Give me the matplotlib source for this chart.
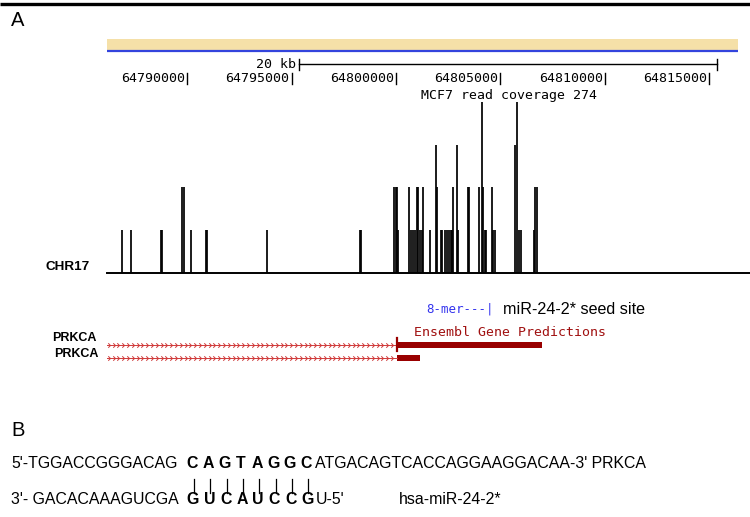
import numpy as np
import matplotlib
matplotlib.use('Agg')
import matplotlib.pyplot as plt

plt.rcParams['font.family'] = ['Liberation Sans', 'DejaVu Sans']
MONO = 'DejaVu Sans Mono'

# --- data -----------------------------------------------------------------
# browser window on chr17 (bp)
view_start = 64786169
view_end = 64816373
tick_pos = [64790000, 64795000, 64800000, 64805000, 64810000, 64815000]
scale_start = 64795349
scale_len = 20000

# MCF7 read coverage (positions in bp, reads)
cov_pos = [
    64786887, 64787289, 64788750, 64788803, 64789770, 64789828, 64790163,
    64790881, 64790934, 64793831, 64798271, 64798319,
    64799923, 64799995, 64800057, 64800114, 64800632, 64800713, 64800809,
    64800890, 64800986, 64801063, 64801144, 64801225, 64801302, 64801637,
    64801925, 64801972, 64802135, 64802222, 64802341, 64802423, 64802547,
    64802619, 64802691, 64802748, 64802930, 64802988, 64803443, 64803505,
    64803970, 64804099, 64804151, 64804257, 64804319, 64804606, 64804664,
    64804721, 64805717, 64805775, 64805909, 64805967, 64806618, 64806675,
    64806732,
]
cov_reads = [
    68, 68, 68, 68, 137, 137, 68,
    68, 68, 68, 68, 68,
    137, 137, 137, 68, 137, 68, 68,
    68, 137, 137, 68, 68, 137, 68,
    205, 137, 68, 68, 68, 68, 68,
    68, 68, 137, 205, 68, 137, 137,
    137, 274, 137, 68, 68, 137, 68,
    68, 205, 274, 68, 68, 68, 137,
    137,
]

# Ensembl transcripts
tx_names = ['PRKCA', 'PRKCA']
tx_exon_start = [64800023, 64800023]
tx_exon_end = [64806977, 64801130]

# panel B sequences
mrna_left = "5'-TGGACCGGGACAG"
mrna_seed = "CAGTAGGC"
mrna_right = "ATGACAGTCACCAGGAAGGACAA-3' PRKCA"
mir_left = "3'- GACACAAAGUCGA"
mir_seed = "GUCAUCCG"
mir_right = "U-5'"
mir_name = "hsa-miR-24-2*"

# --- layout ---------------------------------------------------------------
W, H = 750, 517
BP_PER_PX = 5000 / 104.4
G0 = tick_pos[0] - 187.3 * BP_PER_PX
G1 = G0 + W * BP_PER_PX
FS_B = 11.4

fig = plt.figure(figsize=(W / 100, H / 100), dpi=100, facecolor='white')

# pixel-space axes for labels
ax = fig.add_axes([0, 0, 1, 1])
ax.set_xlim(0, W)
ax.set_ylim(H, 0)
ax.axis('off')

# genomic x, pixel y
trk = fig.add_axes([0, 0, 1, 1])
trk.set_xlim(G0, G1)
trk.set_ylim(H, 0)
trk.axis('off')

# coverage track
base_y = 272.5
top_y = 102.0
cov = fig.add_axes([0, (H - base_y) / H, 1, (base_y - top_y) / H])
cov.set_xlim(G0, G1)
cov.set_ylim(0, max(cov_reads))
cov.axis('off')

# top rule and panel letters
ax.plot([0, W], [4, 4], color='black', lw=2.4, solid_capstyle='butt')
ax.text(11, 21, 'A', fontsize=14.5, va='center', ha='left')
ax.text(11, 431, 'B', fontsize=14.5, va='center', ha='left')

# chromosome band + base position
trk.fill_between([view_start, view_end], 39, 50.5, color='#F5E0A8', lw=0)
trk.plot([view_start, view_end], [51.3, 51.3], color='#3344DD', lw=1.6,
         solid_capstyle='butt')

sc_end = scale_start + scale_len
trk.plot([scale_start, sc_end], [64, 64], color='black', lw=1.0)
for sx in (scale_start, sc_end):
    trk.plot([sx, sx], [58.5, 69.5], color='black', lw=1.0)
ax.text(296, 64, '20 kb', family=MONO, fontsize=9.5, ha='right', va='center')

for tp in tick_pos:
    trk.text(tp - 2.2 * BP_PER_PX, 78.5, str(tp), family=MONO, fontsize=9.5,
             ha='right', va='center')
    trk.plot([tp, tp], [73, 84], color='black', lw=1.0)

ax.text(509, 95, 'MCF7 read coverage %d' % max(cov_reads), family=MONO,
        fontsize=9.5, ha='center', va='center')

# coverage bars
cov.vlines(cov_pos, 0, cov_reads, color='black', lw=1.25)
cov.plot([view_start, G1], [0, 0], color='black', lw=1.4, clip_on=False)
ax.text(45, 267, 'CHR17', fontsize=9.7, fontweight='bold', ha='left',
        va='center')

# seed site annotation
ax.text(426, 309, '8-mer---|', family=MONO, fontsize=9, color='#3333EE',
        ha='left', va='center')
ax.text(503, 309, 'miR-24-2* seed site', fontsize=11.6, ha='left',
        va='center')
ax.text(414, 332, 'Ensembl Gene Predictions', family=MONO, fontsize=9.5,
        color='#A01010', ha='left', va='center')

# transcripts
chev = [(-1, 1), (0, 0), (-1, -1)]
tx_y = [345.2, 357.8]
name_x = [52, 54]
name_y = [338, 354]
for i in range(len(tx_names)):
    y = tx_y[i]
    xs = np.arange(view_start + 2.5 * BP_PER_PX, tx_exon_start[i],
                   4.8 * BP_PER_PX)
    trk.plot([view_start, tx_exon_start[i]], [y, y], color='#D03A3A', lw=0.7)
    trk.plot(xs, np.full_like(xs, y), ls='none', marker=chev, ms=3.2,
             mfc='none', mec='#D03A3A', mew=0.7)
    trk.fill_between([tx_exon_start[i], tx_exon_end[i]], y - 3, y + 3,
                     color='#990000', lw=0)
    ax.text(name_x[i], name_y[i], tx_names[i], fontsize=9, fontweight='bold',
            ha='left', va='center')
trk.plot([tx_exon_start[0] + 0.6 * BP_PER_PX] * 2, [338.3, 350.7],
         color='#990000', lw=1.6)

# panel B: duplex
step = 16.3
y1, y2 = 463, 500
ax.text(11, y1, mrna_left, fontsize=FS_B, ha='left', va='center')
for i, ch in enumerate(mrna_seed):
    ax.text(192 + step * i, y1, ch, fontsize=FS_B, fontweight='bold',
            ha='center', va='center')
ax.text(315, y1, mrna_right, fontsize=FS_B, ha='left', va='center')
for i in range(len(mrna_seed)):
    ax.plot([194 + step * i] * 2, [479, 493], color='black', lw=0.9)
ax.text(11, y2, mir_left, fontsize=FS_B, ha='left', va='center')
for i, ch in enumerate(mir_seed):
    ax.text(193 + step * i, y2, ch, fontsize=FS_B, fontweight='bold',
            ha='center', va='center')
ax.text(316, y2, mir_right, fontsize=FS_B, ha='left', va='center')
ax.text(399, y2, mir_name, fontsize=FS_B, ha='left', va='center')

fig.savefig('out.png', dpi=100, facecolor='white')
